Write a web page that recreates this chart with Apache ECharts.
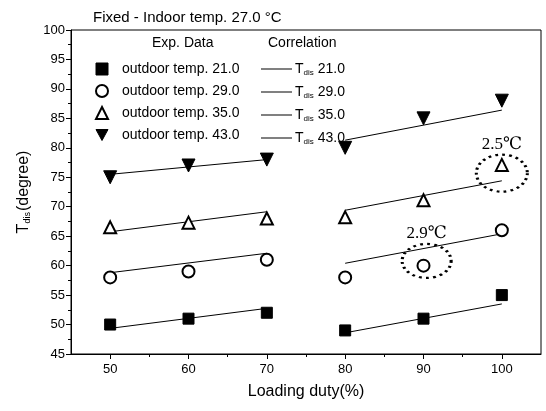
<!DOCTYPE html>
<html>
<head>
<meta charset="utf-8">
<script src="https://cdn.jsdelivr.net/npm/echarts@6/dist/echarts.min.js"></script>
<style>
  html, body { margin: 0; padding: 0; background: #fff; }
  #chart { width: 546px; height: 411px; }
</style>
</head>
<body>
<div id="chart"></div>
<script>
// loading duty (%) at which each point was measured
var duty = [50, 60, 70, 80, 90, 100];

// measured discharge temperature, one list per outdoor temp
var t21 = [50, 51, 52, 49, 51, 55];
var t29 = [58, 59, 61, 58, 60, 66];
var t35 = [66.5, 67.3, 68, 68.2, 71.1, 77.1];
var t43 = [75, 77, 78, 80, 85, 88];

// correlation lines: end values for the 50-70 and 80-100 segments
var segLeft = [50, 70];
var segRight = [80, 100];
var corr21 = [49.35, 52.75, 48.6, 53.5];
var corr29 = [58.8, 62.1, 60.4, 65.4];
var corr35 = [65.75, 69.15, 69.4, 74.4];
var corr43 = [75.5, 78.0, 81.3, 86.4];

var outdoor = ['21.0', '29.0', '35.0', '43.0'];
var xTicks = [50, 60, 70, 80, 90, 100];
var xMinorTicks = [55, 65, 75, 85, 95];

var chart = echarts.init(document.getElementById('chart'));
var font = 'Liberation Sans, Arial, sans-serif';
var downTri = 'path://M0,0 L12,0 L6,11 Z';

function pts(vals) {
  return duty.map(function (d, i) { return [d, vals[i]]; });
}
function corrLine(c) {
  return [
    [segLeft[0], c[0]], [segLeft[1], c[1]],
    [75, '-'],
    [segRight[0], c[2]], [segRight[1], c[3]]
  ];
}

var markers = [
  { sym: 'rect', size: 11, vals: t21 },
  { sym: 'emptyCircle', size: 12, vals: t29 },
  { sym: 'emptyTriangle', size: 12, vals: t35 },
  { sym: downTri, size: 13, vals: t43 }
];
var corrs = [corr21, corr29, corr35, corr43];

var series = [];
markers.forEach(function (m, i) {
  series.push({
    name: 'outdoor temp. ' + outdoor[i],
    type: 'scatter',
    symbol: m.sym,
    symbolSize: m.size,
    itemStyle: { color: '#000', borderColor: '#000', borderWidth: 1, opacity: 1 },
    data: pts(m.vals),
    z: 3
  });
});
corrs.forEach(function (c, i) {
  series.push({
    name: 'Tdis ' + outdoor[i],
    type: 'line',
    symbol: 'none',
    connectNulls: false,
    lineStyle: { color: '#000', width: 1 },
    itemStyle: { color: '#000' },
    data: corrLine(c),
    z: 2
  });
});

// dotted rings with the deviation notes
var ringStyle = {
  color: 'rgba(0,0,0,0)', borderColor: '#000', borderWidth: 2.6,
  borderType: [2.4, 3.6]
};
var ringLabel = {
  show: true, position: 'top', distance: 1, color: '#000',
  fontFamily: 'Liberation Serif, DejaVu Serif, serif', fontSize: 17
};
series[2].markPoint = {
  symbol: 'circle', silent: true, itemStyle: ringStyle,
  data: [{ coord: [100, 75.7], symbolSize: [51, 37], label: Object.assign({}, ringLabel, { formatter: '2.5\u2103' }) }]
};
series[1].markPoint = {
  symbol: 'circle', silent: true, itemStyle: ringStyle,
  data: [{ coord: [90.4, 60.8], symbolSize: [49, 34], label: Object.assign({}, ringLabel, { formatter: '2.9\u2103' }) }]
};

var legendIcons = ['rect', 'emptyCircle', 'emptyTriangle', downTri];

var option = {
  animation: false,
  backgroundColor: '#fff',
  textStyle: { fontFamily: font },
  title: {
    text: 'Fixed - Indoor temp. 27.0 \u00b0C',
    left: 88, top: 5,
    textStyle: { fontFamily: font, fontSize: 15, fontWeight: 'normal', color: '#000' }
  },
  grid: {
    left: 71, right: 5, top: 30, bottom: 57,
    show: true, borderColor: '#000', borderWidth: 1, backgroundColor: 'transparent'
  },
  graphic: [
    { type: 'text', left: 152, top: 36, style: { text: 'Exp. Data', font: '14px ' + font, fill: '#000' } },
    { type: 'text', left: 268, top: 36, style: { text: 'Correlation', font: '14px ' + font, fill: '#000' } }
  ],
  legend: [
    {
      data: series.slice(0, 4).map(function (s, i) { return { name: s.name, icon: legendIcons[i] }; }),
      orient: 'vertical', left: 90, top: 57,
      itemWidth: 12, itemHeight: 12, itemGap: 8,
      selectedMode: false,
      itemStyle: { color: '#000', borderColor: '#000', borderWidth: 1 },
      textStyle: { fontFamily: font, fontSize: 14, color: '#000', padding: [0, 0, 0, 9] }
    },
    {
      data: series.slice(4).map(function (s) { return { name: s.name, icon: 'rect' }; }),
      orient: 'vertical', left: 256, top: 57,
      itemWidth: 31, itemHeight: 1, itemGap: 8,
      selectedMode: false,
      itemStyle: { color: '#000', borderWidth: 0 },
      lineStyle: { width: 0 },
      formatter: function (n) { return '{t|T}{s|dis}{t| ' + n.slice(5) + '}'; },
      textStyle: {
        fontFamily: font, fontSize: 14, color: '#000', padding: [0, 0, 0, -2],
        rich: {
          t: { fontFamily: font, fontSize: 14, color: '#000', height: 12, lineHeight: 12 },
          s: { fontFamily: font, fontSize: 8, color: '#000', verticalAlign: 'bottom', padding: [8, 0, 0, 0] }
        }
      }
    }
  ],
  xAxis: [
    {
      type: 'value', min: 45, max: 105,
      name: 'Loading duty(%)', nameLocation: 'middle', nameGap: 30,
      nameTextStyle: { fontFamily: font, fontSize: 16, color: '#000' },
      axisLine: { lineStyle: { color: '#000', width: 1 } },
      axisTick: { show: true, customValues: xTicks, length: 5, lineStyle: { color: '#000' } },
      axisLabel: { customValues: xTicks, fontFamily: font, fontSize: 13, color: '#000', margin: 9 },
      splitLine: { show: false }
    },
    {
      type: 'value', min: 45, max: 105, position: 'bottom',
      axisLine: { show: false },
      axisTick: { show: true, customValues: xMinorTicks, length: 3, lineStyle: { color: '#000' } },
      axisLabel: { show: false },
      splitLine: { show: false }
    }
  ],
  yAxis: {
    type: 'value', min: 45, max: 100, interval: 5,
    name: '{t|T}{s|dis}{t|(degree)}', nameLocation: 'middle', nameGap: 28,
    nameTextStyle: {
      fontFamily: font, fontSize: 16, color: '#000',
      rich: {
        t: { fontFamily: font, fontSize: 16, color: '#000' },
        s: { fontFamily: font, fontSize: 9, color: '#000', verticalAlign: 'bottom', padding: [9, 1, 0, 0] }
      }
    },
    axisLine: { show: true, lineStyle: { color: '#000', width: 1 } },
    axisTick: { show: true, length: 5, lineStyle: { color: '#000' } },
    minorTick: { show: true, splitNumber: 2, length: 3, lineStyle: { color: '#000' } },
    axisLabel: { fontFamily: font, fontSize: 13, color: '#000', margin: 6 },
    splitLine: { show: false }
  },
  series: series
};

chart.setOption(option);
</script>
</body>
</html>
